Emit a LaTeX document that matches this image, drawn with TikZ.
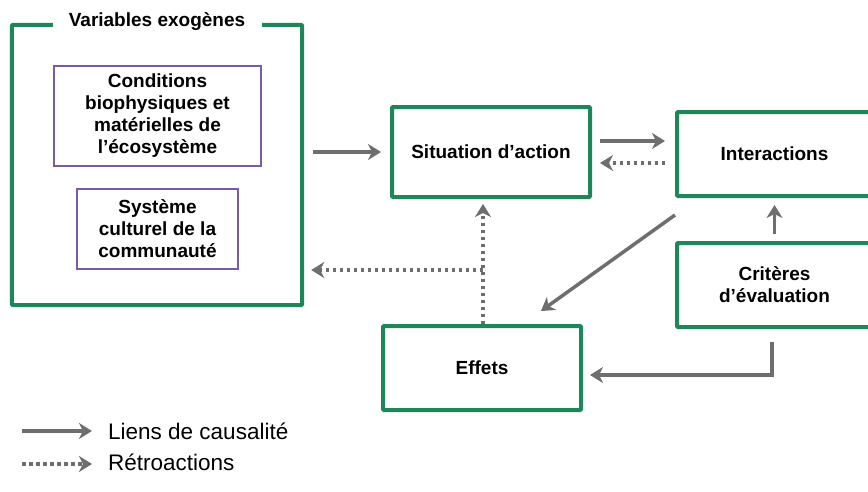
\documentclass[tikz,border=0pt]{standalone}
\usepackage{fontspec}
\setmainfont{Liberation Sans}
\usetikzlibrary{arrows.meta,calc}
\definecolor{ogreen}{HTML}{1E875A}
\definecolor{opurple}{HTML}{7B5BA6}
\definecolor{ogray}{HTML}{6E6E6E}
\tikzset{
  gbox/.style={draw=ogreen,line width=4pt,rounded corners=1pt,minimum width=#1,inner sep=0pt,align=center,font=\fontsize{19}{22}\selectfont\bfseries},
  pbox/.style={draw=opurple,line width=1.8pt,inner sep=0pt,align=center,font=\fontsize{19}{22}\selectfont\bfseries},
  causal/.style={draw=ogray,line width=3.5pt,-{Stealth[length=13pt,width=16pt,inset=4pt]}},
  retro/.style={draw=ogray,line width=3.5pt,dash pattern=on 3.5pt off 3.5pt,-{Stealth[length=13pt,width=16pt,inset=4pt]}},
  legtext/.style={anchor=west,inner sep=0pt,font=\fontsize{22.5}{26}\selectfont}
}
\begin{document}
\begin{tikzpicture}[x=1pt,y=-1pt]
\useasboundingbox (0,0) rectangle (868,491);
% exogenous frame
\node[minimum width=290pt,minimum height=280pt,inner sep=0pt] (exo) at (157,165) {};
\draw[ogreen,line width=4pt,rounded corners=1pt] ($(exo.north west)+(41,0)$) -- (exo.north west) -- (exo.south west) -- (exo.south east) -- (exo.north east) -- ($(exo.north east)+(-40,0)$);
\node[inner sep=0pt,font=\fontsize{19}{22}\selectfont\bfseries] (exot) at (157,22) {Variables exogènes};
\node[pbox,minimum width=207pt,minimum height=100pt] (cond) at (157.5,116) {Conditions\\biophysiques et\\matérielles de\\l’écosystème};
\node[pbox,minimum width=161pt,minimum height=80pt] (cult) at (157.5,229) {Système\\culturel de la\\communauté};
% main boxes
\node[gbox=198pt,minimum height=90pt] (sit) at (491,152) {Situation d’action};
\node[gbox=195pt,minimum height=84pt] (int) at (774.5,154) {Interactions};
\node[gbox=195pt,minimum height=84pt] (crit) at (774.5,285) {Critères\\d’évaluation};
\node[gbox=198pt,minimum height=84pt] (eff) at (482,368) {Effets};
% connector end points
\coordinate (a1) at ($(sit.east)+(8,-11)$);
\coordinate (a2) at ($(int.west)+(-10,0)$);
\coordinate (b1) at ($(int.west)+(-10,9)$);
\coordinate (b2) at ($(sit.east)+(8,0)$);
\coordinate (j) at (483,270);
% connectors
\draw[causal] ([xshift=11pt]exo.east |- sit.west) -- ([xshift=-9pt]sit.west);
\draw[causal] (a1) -- (a2 |- a1);
\draw[retro] (b1) -- (b2 |- b1);
\draw[causal] ([yshift=-17pt]int.south west) -- ([xshift=59pt,yshift=13pt]eff.north);
\draw[causal] ([yshift=7pt]crit.north) -- ([yshift=-7pt]int.south);
\draw[causal] ([xshift=-2.5pt,yshift=-13pt]crit.south) |- ([xshift=7pt,yshift=-7pt]eff.east);
\draw[retro] ([xshift=1pt]eff.north) -- ([xshift=1pt,yshift=-5pt]eff.north |- sit.south);
\draw[retro] (j) -- ([xshift=9pt]exo.east |- j);
% legend
\node[legtext] (l1) at (108,431) {Liens de causalité};
\node[legtext] (l2) at (108,462) {Rétroactions};
\coordinate (l1s) at (22,431);
\coordinate (l2s) at (22,464);
\draw[causal] (l1s) -- ([xshift=-16pt]l1.west |- l1s);
\draw[retro] (l2s) -- ([xshift=-16pt]l2.west |- l2s);
\end{tikzpicture}
\end{document}
